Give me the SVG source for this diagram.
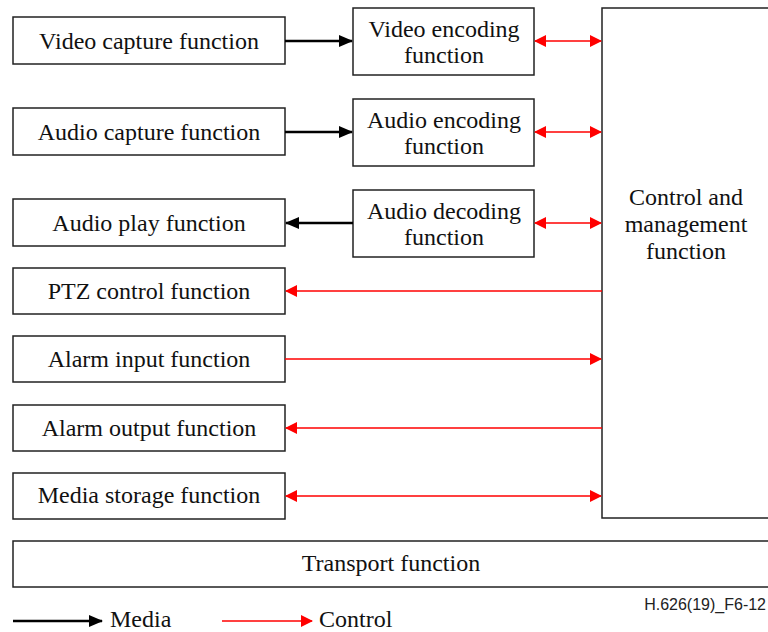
<svg xmlns="http://www.w3.org/2000/svg" width="768" height="632" viewBox="0 0 768 632">
<style>
.box{fill:#fff;stroke:#222;stroke-width:1.5}
.t{font-family:"Liberation Serif","Times New Roman",serif;font-size:24px;fill:#111;text-anchor:middle}
.m{stroke:#000;stroke-width:2.5;fill:none}
.c{stroke:#f00;stroke-width:1.5;fill:none}
</style>
<defs>
<marker id="mb" markerWidth="14" markerHeight="14" refX="13" refY="6" orient="auto" markerUnits="userSpaceOnUse" viewBox="0 0 14 12"><path d="M0,0 L14,6 L0,12 z" fill="#000"/></marker>
<marker id="rb" markerWidth="12" markerHeight="12" refX="11" refY="6" orient="auto" markerUnits="userSpaceOnUse" viewBox="0 0 12 12"><path d="M0,0 L12,6 L0,12 z" fill="#f00"/></marker>
<marker id="rs" markerWidth="12" markerHeight="12" refX="1" refY="6" orient="auto" markerUnits="userSpaceOnUse" viewBox="0 0 12 12"><path d="M12,0 L0,6 L12,12 z" fill="#f00"/></marker>
</defs>
<g id="video-capture"><rect class="box" x="13" y="17" width="272" height="47"/><text class="t" x="149" y="49">Video capture function</text></g>
<g id="audio-capture"><rect class="box" x="13" y="108" width="272" height="47"/><text class="t" x="149" y="140">Audio capture function</text></g>
<g id="audio-play"><rect class="box" x="13" y="199" width="272" height="47"/><text class="t" x="149" y="231">Audio play function</text></g>
<g id="ptz"><rect class="box" x="13" y="268" width="272" height="46"/><text class="t" x="149" y="299">PTZ control function</text></g>
<g id="alarm-input"><rect class="box" x="13" y="336" width="272" height="46"/><text class="t" x="149" y="367">Alarm input function</text></g>
<g id="alarm-output"><rect class="box" x="13" y="405" width="272" height="46"/><text class="t" x="149" y="436">Alarm output function</text></g>
<g id="media-storage"><rect class="box" x="13" y="473" width="272" height="46"/><text class="t" x="149" y="503">Media storage function</text></g>
<g id="video-encoding"><rect class="box" x="353" y="8" width="181" height="67"/><text class="t" x="444" y="37">Video encoding</text><text class="t" x="444" y="63">function</text></g>
<g id="audio-encoding"><rect class="box" x="353" y="99" width="181" height="67"/><text class="t" x="444" y="128">Audio encoding</text><text class="t" x="444" y="154">function</text></g>
<g id="audio-decoding"><rect class="box" x="353" y="190" width="181" height="67"/><text class="t" x="444" y="219">Audio decoding</text><text class="t" x="444" y="245">function</text></g>
<g id="control-management"><rect class="box" x="602" y="8" width="175" height="510"/><text class="t" x="686" y="205">Control and</text><text class="t" x="686" y="232">management</text><text class="t" x="686" y="259">function</text></g>
<g id="transport"><rect class="box" x="13" y="541" width="764" height="46"/><text class="t" x="391" y="571">Transport function</text></g>
<g id="connectors">
<line class="m" x1="285" y1="41" x2="352" y2="41" marker-end="url(#mb)"/>
<line class="m" x1="285" y1="132" x2="352" y2="132" marker-end="url(#mb)"/>
<line class="m" x1="353" y1="223" x2="286" y2="223" marker-end="url(#mb)"/>
<line class="c" x1="535" y1="41" x2="601" y2="41" marker-start="url(#rs)" marker-end="url(#rb)"/>
<line class="c" x1="535" y1="132" x2="601" y2="132" marker-start="url(#rs)" marker-end="url(#rb)"/>
<line class="c" x1="535" y1="223" x2="601" y2="223" marker-start="url(#rs)" marker-end="url(#rb)"/>
<line class="c" x1="602" y1="291" x2="286" y2="291" marker-end="url(#rb)"/>
<line class="c" x1="285" y1="359" x2="601" y2="359" marker-end="url(#rb)"/>
<line class="c" x1="602" y1="428" x2="286" y2="428" marker-end="url(#rb)"/>
<line class="c" x1="286" y1="496" x2="601" y2="496" marker-start="url(#rs)" marker-end="url(#rb)"/>
</g>
<g id="legend">
<line class="m" x1="13" y1="621" x2="102" y2="621" marker-end="url(#mb)"/>
<text x="110" y="627" font-family="'Liberation Serif','Times New Roman',serif" font-size="24" fill="#111">Media</text>
<line class="c" x1="222" y1="621" x2="312" y2="621" marker-end="url(#rb)"/>
<text x="319" y="627" font-family="'Liberation Serif','Times New Roman',serif" font-size="24" fill="#111">Control</text>
<text x="766" y="610" font-family="'Liberation Sans',Arial,sans-serif" font-size="16" fill="#222" text-anchor="end">H.626(19)_F6-12</text>
</g>
</svg>
